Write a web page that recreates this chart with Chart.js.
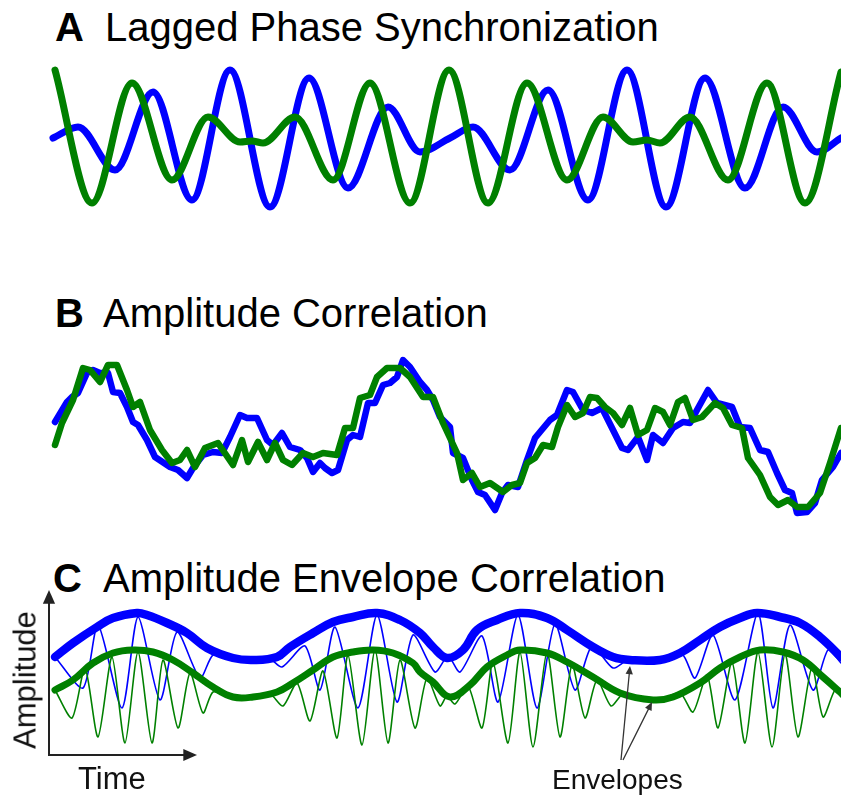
<!DOCTYPE html>
<html>
<head>
<meta charset="utf-8">
<script src="https://cdn.jsdelivr.net/npm/chart.js@4.4.1/dist/chart.umd.min.js"></script>
<style>
  html, body { margin: 0; padding: 0; background: #fff; }
  body { width: 841px; height: 806px; position: relative; overflow: hidden; font-family: "Liberation Sans", Arial, sans-serif; color: #000; }
  .t { position: absolute; font-size: 40px; line-height: 40px; white-space: nowrap; }
  .b { font-weight: bold; }
  canvas { position: absolute; left: 0; }
  .lbl { position: absolute; font-size: 31px; line-height: 31px; white-space: nowrap; color: #111; }
</style>
</head>
<body>
<div class="t b" style="left:55px; top:7px;">A</div>
<div class="t" style="left:105px; top:7px;">Lagged Phase Synchronization</div>
<div class="t b" style="left:55px; top:293px;">B</div>
<div class="t" style="left:103px; top:293px;">Amplitude Correlation</div>
<div class="t b" style="left:53px; top:558px;">C</div>
<div class="t" style="left:103px; top:558px;">Amplitude Envelope Correlation</div>

<canvas id="cA" width="841" height="180" style="top:50px"></canvas>
<canvas id="cB" width="841" height="190" style="top:340px"></canvas>
<canvas id="cC" width="841" height="216" style="top:590px"></canvas>

<div class="lbl" style="left:25px; top:680px; transform: translate(-50%,-50%) rotate(-90deg);">Amplitude</div>
<div class="lbl" style="left:78px; top:763px;">Time</div>
<div class="lbl" style="left:552px; top:766px; font-size:28px; line-height:28px;">Envelopes</div>

<script>
// ---- Data: [time (ms), amplitude (a.u.)] ----
// Panel A: Lagged Phase Synchronization
const aBlue = [[0,0],[25,11],[62,-32],[100,46],[139,-62],[177,68],[217,-69],[256,60],[295,-50],[335,31],[367,-14],[397,0],[420,11],[457,-32],[495,48],[535,-62],[574,68],[613,-69],[652,60],[692,-50],[730,31],[764,-14],[788,0]];
const aGreen = [[2,68],[39,-65],[79,55],[119,-42],[155,21],[187,-4],[199,-3],[210,-5],[242,21],[280,-42],[317,55],[357,-65],[396,68],[435,-65],[474,55],[514,-42],[550,21],[580,-4],[594,-2],[607,-5],[637,21],[675,-42],[714,55],[752,-65],[788,66]];

// Panel B: Amplitude Correlation
const bBlue = [[2,18],[14,38],[19,43],[25,47],[34,67],[40,70],[47,67],[55,67],[60,48],[67,47],[74,33],[80,18],[85,15],[94,0],[102,-17],[117,-27],[125,-30],[134,-38],[140,-28],[150,-15],[160,-12],[169,-13],[177,3],[187,25],[194,22],[204,22],[214,0],[220,-5],[229,7],[237,-7],[247,-10],[254,-18],[260,-32],[267,-23],[272,-28],[279,-33],[285,-30],[294,0],[300,5],[307,3],[315,37],[322,37],[330,55],[337,57],[344,63],[350,80],[357,73],[367,58],[374,50],[380,40],[387,23],[397,13],[400,-13],[410,-18],[419,-40],[425,-52],[432,-55],[442,-70],[449,-53],[455,-45],[465,-47],[474,-20],[482,2],[497,20],[504,25],[514,50],[520,48],[530,30],[539,27],[549,32],[560,10],[569,-8],[575,-10],[585,3],[594,-20],[600,5],[610,-3],[620,12],[630,18],[637,17],[644,30],[655,50],[664,37],[679,33],[687,13],[697,12],[707,-10],[715,-12],[724,-33],[732,-50],[739,-53],[744,-73],[754,-72],[762,-63],[769,-40],[780,-27],[788,-13]];
const bGreen = [[2,-5],[9,17],[20,40],[30,72],[37,70],[47,58],[55,75],[64,75],[74,50],[80,33],[87,38],[97,10],[109,-10],[119,-23],[127,-20],[134,-10],[142,-27],[152,-8],[165,-3],[180,-25],[189,0],[195,-22],[205,-2],[214,-20],[222,-3],[230,-20],[239,-25],[250,-13],[260,-17],[270,-13],[284,-15],[292,12],[300,12],[307,42],[317,45],[324,63],[334,72],[347,72],[357,63],[370,43],[380,43],[390,17],[404,-13],[410,-40],[419,-33],[427,-47],[437,-43],[450,-52],[459,-45],[467,-43],[474,-23],[482,-18],[490,-5],[499,-7],[505,13],[514,35],[522,23],[530,27],[537,43],[544,42],[552,33],[560,27],[569,15],[577,32],[585,5],[594,10],[602,32],[610,28],[617,15],[625,38],[632,42],[640,20],[649,23],[662,37],[670,32],[679,15],[689,12],[695,-18],[707,-35],[717,-57],[725,-65],[735,-60],[744,-67],[755,-67],[767,-53],[777,-23],[788,12]];

// Panel C: Amplitude Envelope Correlation
const cBlueSignal = [[2,43],[30,12],[45,75],[69,-8],[85,83],[107,0],[124,68],[147,22],[160,45],[177,42],[202,40],[217,41],[229,33],[252,54],[267,10],[282,73],[305,-8],[324,85],[344,-2],[360,65],[382,28],[395,44],[407,28],[429,64],[445,-2],[465,85],[484,-8],[502,76],[522,10],[539,54],[560,32],[575,40],[607,40],[629,46],[642,22],[660,65],[682,0],[705,87],[720,-8],[737,75],[760,10],[775,50],[788,37]];
const cBlueEnvelope = [[2,43],[20,57],[44,73],[60,82],[84,87],[94,85],[114,77],[134,67],[154,52],[180,42],[200,40],[224,43],[237,53],[260,67],[280,78],[300,83],[324,87],[347,80],[367,67],[380,53],[394,42],[410,50],[424,70],[444,80],[467,87],[494,82],[514,70],[540,53],[560,43],[577,40],[607,40],[627,47],[647,60],[667,73],[687,82],[704,87],[727,83],[747,77],[767,63],[788,43]];
const cGreenSignal = [[2,10],[19,-18],[32,32],[45,-37],[59,43],[72,-43],[85,48],[99,-43],[110,40],[125,-28],[137,27],[150,-13],[160,8],[177,3],[197,3],[217,6],[230,-6],[244,17],[257,-21],[270,29],[284,-38],[295,45],[309,-45],[322,50],[335,-43],[347,40],[362,-28],[374,22],[387,-6],[394,4],[402,-4],[415,14],[429,-28],[440,38],[455,-43],[467,48],[480,-47],[494,48],[507,-37],[519,35],[532,-18],[544,20],[558,-6],[570,6],[587,2],[607,0],[627,7],[640,-12],[654,25],[665,-28],[679,38],[692,-43],[705,48],[719,-47],[732,46],[745,-37],[759,33],[770,-17],[782,10],[788,3]];
const cGreenEnvelope = [[2,10],[20,20],[40,37],[60,47],[80,50],[100,48],[120,40],[140,27],[160,13],[180,3],[200,3],[224,8],[240,17],[260,30],[280,43],[300,48],[320,50],[340,47],[360,37],[367,28],[380,18],[397,3],[417,15],[434,33],[454,45],[467,50],[494,47],[514,38],[540,23],[567,7],[600,0],[620,3],[647,17],[667,32],[687,43],[707,50],[730,48],[750,40],[770,23],[788,7]];

// Axis arrows and "Envelopes" pointers (data units of panel C)
const cAxisOrigin = [-4, -55];
const cAxisYEnd = [-4, 110];
const cAxisXEnd = [144, -55];
const envelopeArrows = [[[568,-60],[577,34]], [[570,-60],[599,-2]]];

const BLUE = '#0000ff';
const GREEN = '#008000';

function pts(arr) { return arr.map(p => ({x: p[0], y: p[1]})); }

function ds(arr, color, width, opts) {
  return Object.assign({
    data: pts(arr), borderColor: color, borderWidth: width, pointRadius: 0,
    fill: false, borderCapStyle: 'round', borderJoinStyle: 'round', clip: false
  }, opts || {});
}

function baseOptions(ymin, ymax) {
  return {
    responsive: false, animation: false, events: [],
    layout: { padding: 0 },
    plugins: { legend: { display: false }, tooltip: { enabled: false } },
    scales: {
      x: { type: 'linear', min: -53, max: 788, display: false },
      y: { type: 'linear', min: ymin, max: ymax, display: false }
    }
  };
}

new Chart(document.getElementById('cA'), {
  type: 'line',
  data: { datasets: [
    ds(aGreen, GREEN, 7, { cubicInterpolationMode: 'monotone', order: 0 }),
    ds(aBlue, BLUE, 7, { cubicInterpolationMode: 'monotone', order: 1 })
  ]},
  options: baseOptions(-92, 88)
});

new Chart(document.getElementById('cB'), {
  type: 'line',
  data: { datasets: [
    ds(bGreen, GREEN, 6.5, { tension: 0, order: 0 }),
    ds(bBlue, BLUE, 6.5, { tension: 0, order: 1 })
  ]},
  options: baseOptions(-90, 100)
});

function arrowHead(ctx, x0, y0, x1, y1, size) {
  const ang = Math.atan2(y1 - y0, x1 - x0);
  ctx.beginPath();
  ctx.moveTo(x1, y1);
  ctx.lineTo(x1 - size * Math.cos(ang - 0.42), y1 - size * Math.sin(ang - 0.42));
  ctx.lineTo(x1 - size * Math.cos(ang + 0.42), y1 - size * Math.sin(ang + 0.42));
  ctx.closePath();
  ctx.fill();
}

const annotate = {
  id: 'annotate',
  afterDatasetsDraw(chart) {
    const ctx = chart.ctx, xs = chart.scales.x, ys = chart.scales.y;
    const P = p => [xs.getPixelForValue(p[0]), ys.getPixelForValue(p[1])];
    ctx.save();
    // time/amplitude axes
    const o = P(cAxisOrigin), ye = P(cAxisYEnd), xe = P(cAxisXEnd);
    ctx.strokeStyle = '#222'; ctx.fillStyle = '#222'; ctx.lineWidth = 2;
    ctx.beginPath();
    ctx.moveTo(ye[0], ye[1] + 10); ctx.lineTo(o[0], o[1]); ctx.lineTo(xe[0] - 12, xe[1]);
    ctx.stroke();
    arrowHead(ctx, o[0], o[1], ye[0], ye[1], 15);
    arrowHead(ctx, o[0], o[1], xe[0], xe[1], 15);
    // envelope pointers
    ctx.strokeStyle = '#333'; ctx.fillStyle = '#333'; ctx.lineWidth = 1.3;
    envelopeArrows.forEach(a => {
      const s = P(a[0]), e = P(a[1]);
      const ang = Math.atan2(e[1] - s[1], e[0] - s[0]);
      ctx.beginPath();
      ctx.moveTo(s[0], s[1]);
      ctx.lineTo(e[0] - 6 * Math.cos(ang), e[1] - 6 * Math.sin(ang));
      ctx.stroke();
      arrowHead(ctx, s[0], s[1], e[0], e[1], 9);
    });
    ctx.restore();
  }
};

new Chart(document.getElementById('cC'), {
  type: 'line',
  data: { datasets: [
    ds(cGreenEnvelope, GREEN, 7, { tension: 0.4, order: 0 }),
    ds(cGreenSignal, GREEN, 1.6, { tension: 0.25, order: 1 }),
    ds(cBlueEnvelope, BLUE, 8.5, { tension: 0.4, order: 2 }),
    ds(cBlueSignal, BLUE, 1.6, { tension: 0.25, order: 3 })
  ]},
  options: baseOptions(-106, 110),
  plugins: [annotate]
});
</script>
</body>
</html>
